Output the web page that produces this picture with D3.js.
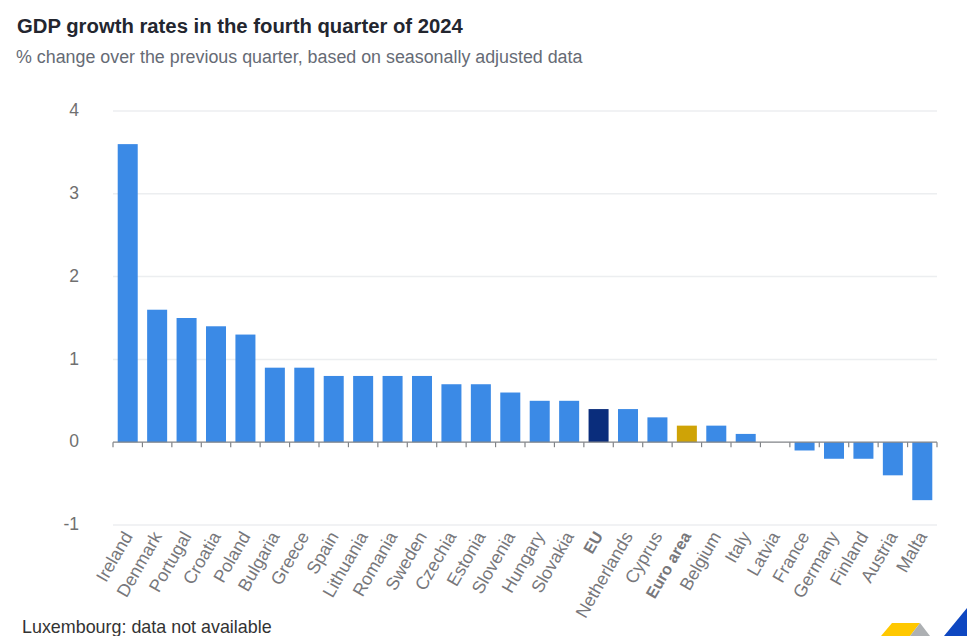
<!DOCTYPE html>
<html>
<head>
    <meta charset="utf-8">
    <title>GDP growth rates in the fourth quarter of 2024</title>
    <script src="https://d3js.org/d3.v7.min.js"></script>
    <style>
        html, body { margin: 0; padding: 0; background: #fff; overflow: hidden; }
        svg { display: block; font-family: "Liberation Sans", Arial, sans-serif; }
        .title { font-size: 20.3px; font-weight: bold; fill: #23262f; }
        .subtitle { font-size: 17.85px; fill: #666b75; }
        .note { font-size: 17.9px; fill: #333; }
        .grid line { stroke: #eceef0; stroke-width: 1.5px; }
        .y-tick { font-size: 17.5px; fill: #707070; }
        .x-label { font-size: 17.8px; fill: #77777b; }
    </style>
</head>
<body>
<svg width="967" height="636"></svg>
<script>
    var categories = ["Ireland", "Denmark", "Portugal", "Croatia", "Poland", "Bulgaria", "Greece",
        "Spain", "Lithuania", "Romania", "Sweden", "Czechia", "Estonia", "Slovenia", "Hungary",
        "Slovakia", "EU", "Netherlands", "Cyprus", "Euro area", "Belgium", "Italy", "Latvia",
        "France", "Germany", "Finland", "Austria", "Malta"];
    var values = [3.6, 1.6, 1.5, 1.4, 1.3, 0.9, 0.9, 0.8, 0.8, 0.8, 0.8, 0.7, 0.7, 0.6, 0.5,
        0.5, 0.4, 0.4, 0.3, 0.2, 0.2, 0.1, 0, -0.1, -0.2, -0.2, -0.4, -0.7];
    var yTicks = [-1, 0, 1, 2, 3, 4];
    var boldLabels = ["EU", "Euro area"];
    var barColors = {"EU": "#0a2d7c", "Euro area": "#cfa306"};

    var svg = d3.select("svg");

    var x = d3.scaleBand().domain(categories).range([113, 937]).paddingInner(0.32).paddingOuter(0.16);
    var y = d3.scaleLinear().domain([-1, 4]).range([525, 111]);

    svg.append("text").attr("class", "title").attr("x", 17).attr("y", 33)
        .text("GDP growth rates in the fourth quarter of 2024");
    svg.append("text").attr("class", "subtitle").attr("x", 16).attr("y", 63)
        .text("% change over the previous quarter, based on seasonally adjusted data");

    // horizontal grid
    svg.append("g").attr("class", "grid")
        .selectAll("line")
        .data(yTicks.filter(function (d) { return d !== 0; }))
        .enter().append("line")
        .attr("x1", 113).attr("x2", 937)
        .attr("y1", function (d) { return y(d); })
        .attr("y2", function (d) { return y(d); });

    svg.append("g").selectAll("text")
        .data(yTicks)
        .enter().append("text")
        .attr("class", "y-tick")
        .attr("x", 79)
        .attr("y", function (d) { return y(d); })
        .attr("dy", "0.3em")
        .attr("text-anchor", "end")
        .text(function (d) { return d; });

    // bars
    svg.append("g").selectAll("rect")
        .data(categories)
        .enter().append("rect")
        .attr("x", function (d) { return x(d); })
        .attr("width", x.bandwidth())
        .attr("y", function (d, i) { return y(Math.max(values[i], 0)); })
        .attr("height", function (d, i) { return Math.abs(y(values[i]) - y(0)); })
        .attr("fill", function (d) { return barColors[d] || "#3b8ae6"; });

    // zero line with ticks between the categories
    var step = x.step();
    var tickPos = categories.map(function (d) { return x(d) - (step - x.bandwidth()) / 2; });
    tickPos.push(937);
    var axis = svg.append("g");
    axis.append("line")
        .attr("x1", 113).attr("x2", 937)
        .attr("y1", y(0)).attr("y2", y(0))
        .attr("stroke", "#808387").attr("stroke-width", 1.2);
    axis.selectAll(".tick")
        .data(tickPos)
        .enter().append("line")
        .attr("x1", function (d) { return d; })
        .attr("x2", function (d) { return d; })
        .attr("y1", y(0)).attr("y2", y(0) + 5)
        .attr("stroke", "#808387").attr("stroke-width", 1.2);

    // rotated category labels
    svg.append("g").selectAll("text")
        .data(categories)
        .enter().append("text")
        .attr("class", "x-label")
        .attr("text-anchor", "end")
        .attr("font-weight", function (d) { return boldLabels.indexOf(d) >= 0 ? "bold" : null; })
        .style("font-size", function (d) { return boldLabels.indexOf(d) >= 0 ? "16px" : null; })
        .attr("transform", function (d) {
            return "translate(" + (x(d) + x.bandwidth() / 2) + ",533) rotate(-60)";
        })
        .attr("dy", "0.35em")
        .text(function (d) { return d; });

    svg.append("text").attr("class", "note").attr("x", 22).attr("y", 633)
        .text("Luxembourg: data not available");

    // logo corner, cut by the bottom of the picture
    var logo = svg.append("g");
    logo.append("polygon").attr("points", "881,636 892,623 920,623 910,636").attr("fill", "#ffc800");
    logo.append("polygon").attr("points", "910,636 920,623 930,636").attr("fill", "#adb0b3");
    logo.append("polygon").attr("points", "944,636 967,608 967,636").attr("fill", "#0e47c1");
</script>
</body>
</html>
